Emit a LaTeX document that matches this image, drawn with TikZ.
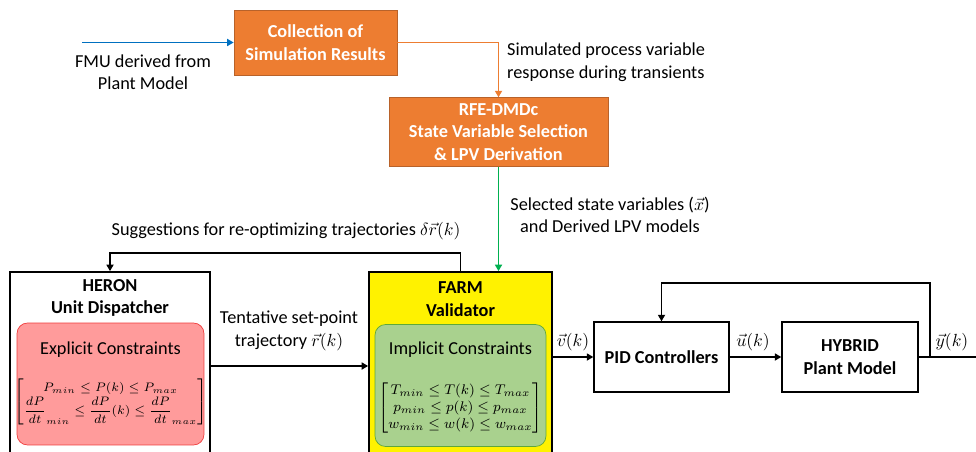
\documentclass[tikz,border=0pt]{standalone}
\usepackage{amsmath}
\usepackage{fontspec}
\setmainfont{Carlito}
\usetikzlibrary{arrows.meta}
\definecolor{pptorange}{HTML}{ED7D31}
\definecolor{pptorangeline}{HTML}{B8622A}
\definecolor{pptblue}{HTML}{0070C0}
\definecolor{pptgreen}{HTML}{00B050}
\definecolor{implfill}{HTML}{A9D18E}
\definecolor{impldraw}{HTML}{5FA83A}
\definecolor{explfill}{HTML}{FF9B9B}
\definecolor{expldraw}{HTML}{F03C3C}
\begin{document}
\begin{tikzpicture}[x=0.02cm, y=-0.02cm,
		every node/.style={font=\fontsize{10.4}{12.8}\selectfont},
		proc/.style={draw=pptorangeline, fill=pptorange, text=white, align=center, font=\fontsize{10.4}{12.8}\selectfont\bfseries},
		block/.style={draw, line width=0.8pt, fill=white, minimum width=2.7cm, minimum height=1.4cm, align=center, font=\fontsize{10.4}{12.8}\selectfont\bfseries},
		tool/.style={draw, line width=1pt, minimum width=#1, minimum height=3.76cm},
		title/.style={align=center, font=\fontsize{10.4}{12.8}\selectfont\bfseries},
		cons/.style={rounded corners=6pt, minimum width=#1, minimum height=2.44cm},
		mathbox/.style={inner sep=0pt, font=\fontsize{#1}{9.6}\selectfont},
		conn/.style={-{Triangle[length=1.3mm,width=1.4mm]}, line width=1.1pt},
		note/.style={align=center}
		]
		\clip (0,0) rectangle (976,452);
		
		% Simulation results and model reduction
		\node[proc, minimum width=3.26cm, minimum height=1.3cm] (coll) at (315.5,42.5) {Collection of\\Simulation Results};
		\node[proc, minimum width=4.38cm, minimum height=1.36cm] (rfe) at (498.5,132) {RFE-DMDc\\State Variable Selection\\\& LPV Derivation};
		\coordinate (fmu) at (82,42.5);
		\draw[conn, pptblue] (fmu) -- (coll);
		\node[note] at (143,72) {FMU derived from\\Plant Model};
		\draw[conn, pptorange] (coll) -| (rfe);
		\node[note, align=left, anchor=west] at (501,62) {Simulated process variable\\response during transients};
		
		% HERON
		\node[tool=4cm, fill=white] (heron) at (110,366) {};
		\node[title] (heronT) at (110,298) {HERON\\Unit Dispatcher};
		\node[cons=3.74cm, draw=expldraw, fill=explfill] (expl) at (110.5,384) {};
		\node (explT) at (110.5,350) {Explicit Constraints};
		\node[mathbox=7.3] (explM) at (110.5,402) {$\begin{bmatrix} P_{min} \le P(k) \le P_{max} \\ \dfrac{dP}{dt}_{min} \le \dfrac{dP}{dt}(k) \le \dfrac{dP}{dt}_{max} \end{bmatrix}$};
		
		% FARM
		\node[tool=3.66cm, fill=yellow] (farm) at (460.5,366) {};
		\node[title] (farmT) at (460.5,299) {FARM\\Validator};
		\node[cons=3.42cm, draw=impldraw, fill=implfill] (impl) at (460.5,385.5) {};
		\node (implT) at (460.5,350) {Implicit Constraints};
		\node[mathbox=8.2] (implM) at (460.5,408) {$\begin{bmatrix} T_{min} \le T(k) \le T_{max} \\ p_{min} \le p(k) \le p_{max} \\ w_{min} \le w(k) \le w_{max} \end{bmatrix}$};
		
		\draw[conn, pptgreen] (rfe) -- (rfe |- farm.north);
		\node[note] at (610,215) {Selected state variables ($\vec{x}$)\\and Derived LPV models};
		\draw[conn] (heron) -- (farm);
		\node[note] at (289,331) {Tentative set-point\\trajectory $\vec{r}(k)$};
		\draw[conn] (farm.north) -- ++(0,-18) -| (heron.north);
		\node[note] at (286,231) {Suggestions for re-optimizing trajectories $\delta\vec{r}(k)$};
		
		% Control loop
		\node[block] (pid) at (661.5,357) {PID Controllers};
		\node[block, minimum width=2.72cm] (hybrid) at (850,357) {HYBRID\\Plant Model};
		\coordinate (tap) at (930,357);
		\coordinate (yout) at (976,357);
		\draw[conn] (farm.east |- pid) -- (pid);
		\node at (573,342) {$\vec{v}(k)$};
		\draw[conn] (pid) -- (hybrid);
		\node at (753,342) {$\vec{u}(k)$};
		\draw[line width=1.1pt] (hybrid) -- (yout);
		\draw[conn] (tap) -- ++(0,-74) -| (pid);
		\node at (952,342) {$\vec{y}(k)$};
		
	\end{tikzpicture}
\end{document}
